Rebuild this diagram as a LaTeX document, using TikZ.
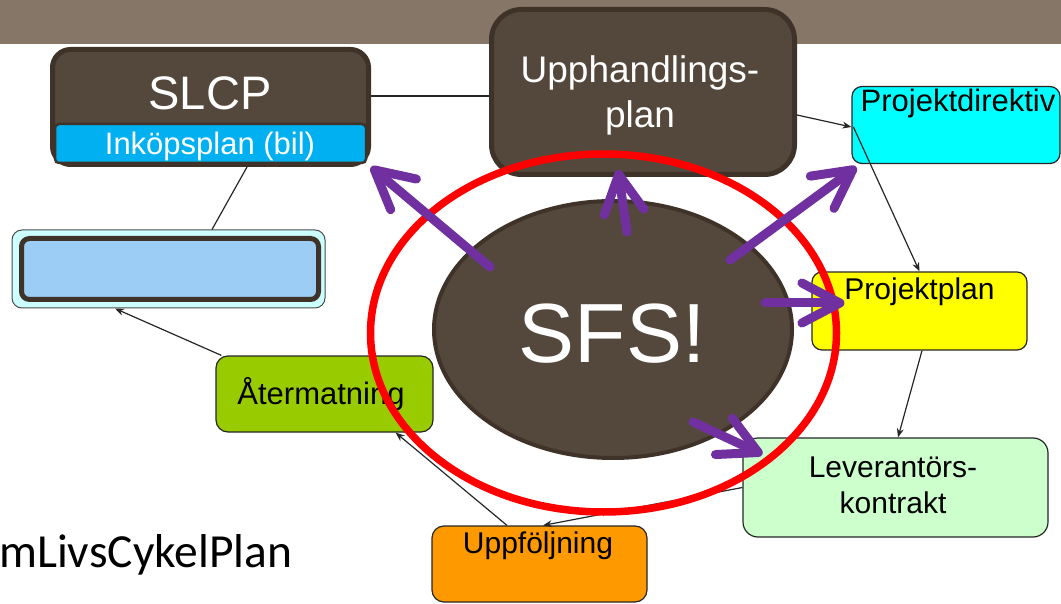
\documentclass[tikz,border=0pt]{standalone}
\usepackage{fontspec}
\setmainfont{Liberation Sans}
\newfontfamily\calibrilike{Carlito}
\usetikzlibrary{arrows.meta,shapes.geometric}
\definecolor{band}{RGB}{133,118,104}
\definecolor{darkfill}{RGB}{84,72,60}
\definecolor{darkedge}{RGB}{63,51,41}
\definecolor{inkblue}{RGB}{0,176,240}
\definecolor{pdcyan}{RGB}{0,255,255}
\definecolor{ppyellow}{RGB}{255,255,0}
\definecolor{levgreen}{RGB}{204,255,204}
\definecolor{upforange}{RGB}{255,153,0}
\definecolor{atgreen}{RGB}{153,204,0}
\definecolor{lbouter}{RGB}{204,255,255}
\definecolor{lbinner}{RGB}{155,205,245}
\definecolor{sfspurple}{RGB}{112,48,160}
\begin{document}
\begin{tikzpicture}[x=1pt,y=-1pt,
  darkbox/.style={draw=darkedge, fill=darkfill, line width=5pt, rectangle, inner sep=0pt},
  flowbox/.style={draw=black!85, line width=1.2pt, rectangle, rounded corners=10pt, inner sep=0pt},
  txt/.style={anchor=base, inner sep=0pt},
  small/.style={font=\fontsize{30}{30}\selectfont},
  link/.style={draw=black!85, line width=1.2pt},
  arr/.style={link, -{Stealth[length=9pt,width=7pt]}},
  bigarrow/.style={draw=sfspurple, line width=9pt, line cap=round,
    -{Straight Barb[length=38pt,width=40pt,round]}},
]
\useasboundingbox (0,0) rectangle (1061,604);

% title band
\fill[band] (0,0) rectangle (1061,44);

% SLCP with its purchase-plan strip
\node[darkbox, rounded corners=18pt, minimum width=316pt, minimum height=115pt] (slcp) at (210.5,107) {};
\node[txt, text=white, font=\fontsize{47}{47}\selectfont] (slcptext) at (210,110) {SLCP};
\node[draw=darkedge, fill=inkblue, line width=2.5pt, rounded corners=4pt, inner sep=0pt,
      minimum width=311pt, minimum height=39pt] (ink) at (210.5,143.5) {};
\node[txt, text=white, font=\fontsize{31}{31}\selectfont] (inktext) at (210,155) {Inköpsplan (bil)};

% procurement plan
\node[darkbox, rounded corners=30pt, minimum width=303pt, minimum height=165pt] (upph) at (643,92) {};
\node[txt, text=white, font=\fontsize{37}{37}\selectfont] (upph1) at (640,83) {Upphandlings-};
\node[txt, text=white, font=\fontsize{37}{37}\selectfont] (upph2) at (640,128) {plan};

% blank light-blue box
\node[draw=black!70, line width=1pt, fill=lbouter, rounded corners=10pt, inner sep=0pt,
      minimum width=313pt, minimum height=78pt] (lb) at (168.5,269) {};
\node[draw=darkedge, fill=lbinner, line width=5pt, rounded corners=8pt, inner sep=0pt,
      minimum width=297pt, minimum height=61pt] (lbin) at (170,269) {};

% flow boxes
\node[flowbox, fill=pdcyan, minimum width=208pt, minimum height=77pt] (pdir) at (956,125) {};
\node[txt, small, font=\fontsize{31}{31}\selectfont] (pdirtext) at (958,112) {Projektdirektiv};

\node[flowbox, fill=ppyellow, minimum width=215pt, minimum height=78pt] (pplan) at (919.5,311) {};
\node[txt, small] (pplantext) at (919.5,300) {Projektplan};

\node[flowbox, fill=levgreen, rounded corners=15pt, minimum width=305pt, minimum height=99pt] (lev) at (895.5,487.5) {};
\node[txt, small] (lev1) at (893,477) {Leverantörs-};
\node[txt, small] (lev2) at (893,513) {kontrakt};

\node[flowbox, fill=upforange, rounded corners=12pt, minimum width=215pt, minimum height=76pt] (uppf) at (539.5,564) {};
\node[txt, small] (uppftext) at (538,553) {Uppföljning};

\node[flowbox, fill=atgreen, rounded corners=12pt, minimum width=217pt, minimum height=76pt] (ater) at (324.5,394) {};
\node[txt, small, font=\fontsize{31}{31}\selectfont] (atertext) at (321,404) {Återmatning};

% central ellipse
\node[ellipse, draw=darkedge, fill=darkfill, line width=4pt, inner sep=0pt,
      minimum width=358pt, minimum height=257pt] (sfs) at (613,329.5) {};
\node[txt, text=white, font=\fontsize{84}{84}\selectfont] (sfstext) at (612,362) {SFS!};

% side caption
\node[anchor=base west, inner sep=0pt, font=\calibrilike\fontsize{47.5}{47.5}\selectfont] (caption) at (-1,567) {mLivsCykelPlan};

% thin connectors
\draw[link] ([yshift=11pt]slcp.east) -- ([yshift=-4pt]upph.west);
\draw[arr] ([yshift=-23pt]upph.east) -- ([yshift=-2pt]pdir.west);
\draw[arr] ([xshift=2pt,yshift=-2pt]pdir.west) -- (pplan.north);
\draw[arr] ([xshift=2.5pt]pplan.south) -- ([xshift=2.5pt]lev.north);
\draw[arr] (lev.west) -- ([xshift=3.5pt]uppf.north);
\draw[arr] ([xshift=-32.5pt]uppf.north) -- ([xshift=-38pt]ater.south east);
\draw[arr] ([xshift=6pt]ater.north west) -- ([xshift=-53.5pt]lb.south);
\draw[link] ([xshift=36.5pt]slcp.south) -- ([xshift=43.5pt]lb.north);

% red ring
\node[ellipse, draw=red, line width=7.5pt, inner sep=0pt,
      minimum width=466pt, minimum height=358pt] (ring) at (603.5,333) {};

% purple arrows out of the ellipse
\coordinate (p1) at (490,267);
\coordinate (p2) at (627,232);
\coordinate (p3) at (730,260);
\coordinate (p4) at (765,303);
\coordinate (p5) at (693,422);
\draw[bigarrow] (p1) -- (slcp.south east);
\draw[bigarrow] (p2) -- ([xshift=-25pt,yshift=7pt]upph.south);
\draw[bigarrow] (p3) -- ([xshift=5pt,yshift=-3pt]pdir.south west);
\draw[bigarrow] (p4) -- ([xshift=33pt,yshift=8pt]pplan.west);
\draw[bigarrow] (p5) -- ([xshift=20pt,yshift=-17pt]lev.north west);
\end{tikzpicture}
\end{document}
